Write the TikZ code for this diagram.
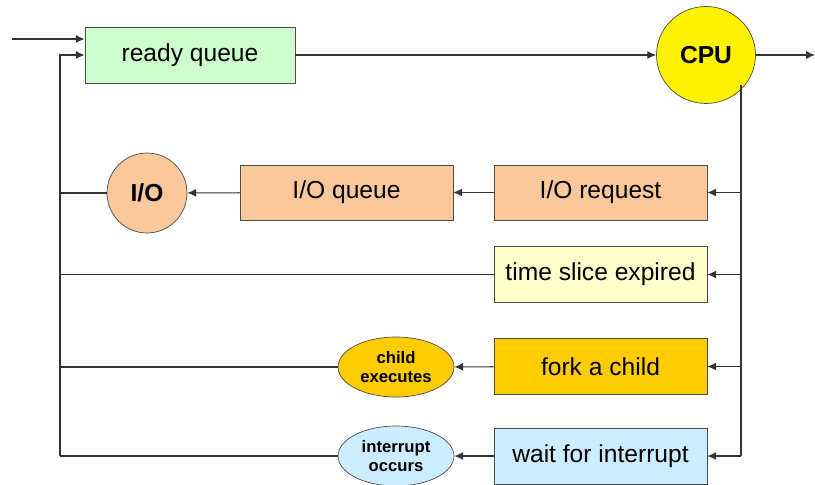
\documentclass[tikz,border=0pt]{standalone}
\usepackage{fontspec}
\setmainfont{Liberation Sans}
\usetikzlibrary{shapes.geometric,arrows.meta}
\definecolor{qgreen}{RGB}{204,255,204}
\definecolor{iotan}{RGB}{250,200,155}
\definecolor{slicey}{RGB}{255,255,204}
\definecolor{forkor}{RGB}{255,204,0}
\definecolor{waitblue}{RGB}{204,236,255}
\begin{document}
\begin{tikzpicture}[x=0.02cm,y=-0.02cm,
    box/.style={draw=black!70,minimum width=4.26cm,minimum height=1.12cm,inner sep=0pt,font=\fontsize{14}{16}\selectfont},
    rnd/.style={draw=black!70,ellipse,inner sep=0pt,font=\fontsize{14}{16}\selectfont\bfseries},
    small/.style={draw=black!70,ellipse,minimum width=2.32cm,minimum height=1.2cm,inner sep=0pt,align=center,font=\fontsize{9.5}{11}\selectfont\bfseries},
    link/.style={draw=black!80,line width=0.6pt},
    arr/.style={link,-{Latex[length=5pt,width=4.5pt]}}]
            \useasboundingbox (0,0) rectangle (815,484);
            \node[box,fill=qgreen,minimum width=4.2cm] (ready) at (190,55) {ready queue};
            \node[rnd,fill=yellow,minimum width=1.98cm,minimum height=1.94cm] (cpu) at (706,55) {CPU};
            \node[box,fill=iotan,minimum height=1.1cm] (req) at (600.5,192.5) {I/O request};
            \node[box,fill=iotan,minimum height=1.1cm] (ioq) at (346.5,192.5) {I/O queue};
            \node[rnd,fill=iotan,minimum width=1.6cm,minimum height=1.6cm] (io) at (147,193) {I/O};
            \node[box,fill=slicey] (slice) at (600.5,274.5) {time slice expired};
            \node[box,fill=forkor] (fork) at (600.5,366.5) {fork a child};
            \node[small,fill=forkor] (child) at (396,367) {child\\executes};
            \node[box,fill=waitblue] (wait) at (600.5,456) {wait for interrupt};
            \node[small,fill=waitblue] (intr) at (396,456) {interrupt\\occurs};
            % entry and main path
            \coordinate (in) at (12,39);
            \coordinate (out) at (815,55);
            \draw[arr] (in) -- (ready.west |- in);
            \draw[arr] (ready) -- (cpu);
            \draw[arr] (cpu) -- (out);
            % right bus from the CPU
            \coordinate (rtop) at (741,85);
            \coordinate (rbot) at (741,456);
            \draw[link] (rtop) -- (rbot);
            \foreach \n in {req,slice,fork,wait}
                \draw[arr] (rtop |- \n) -- (\n.east);
            \draw[arr] (req) -- (ioq);
            \draw[arr] (ioq) -- (io);
            \draw[arr] (fork) -- (child);
            \draw[arr] (wait) -- (intr);
            % left return bus
            \coordinate (lbot) at (60,456);
            \coordinate (ltop) at (60,55);
            \draw[arr] (lbot) -- (ltop) -- (ready.west |- ltop);
            \foreach \n in {io,slice,child,intr}
                \draw[link] (\n.west) -- (lbot |- \n);
        \end{tikzpicture}
\end{document}
